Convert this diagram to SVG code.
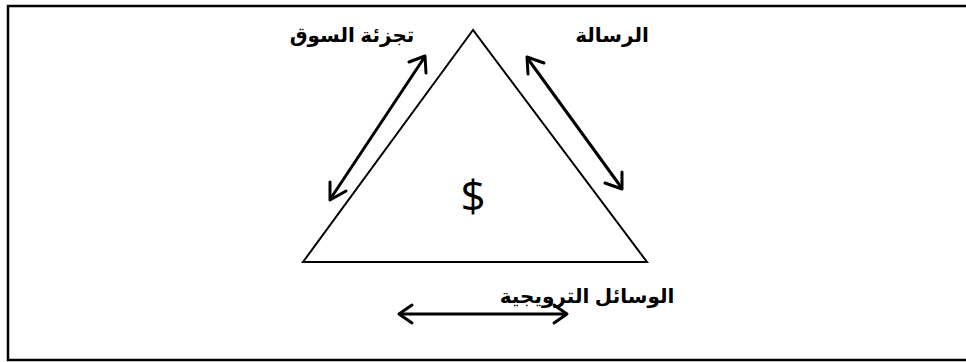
<svg xmlns="http://www.w3.org/2000/svg" width="966" height="362" viewBox="0 0 966 362">
<style>
.lbl{font-family:"Liberation Sans","DejaVu Sans",sans-serif;font-weight:bold;font-size:20px;fill:#000}
.arr{stroke:#000;stroke-width:3;fill:none}
.head{stroke:#000;stroke-width:3;fill:none;stroke-linecap:round;stroke-linejoin:round}
</style>
<rect x="8" y="6" width="970" height="354" fill="#fff" stroke="#000" stroke-width="2.5"/>
<g id="triangle">
<polygon points="473,30 303,262 647,262" fill="none" stroke="#000" stroke-width="2"/>
<text x="473" y="212" text-anchor="middle" font-family="'Open Sans','DejaVu Sans',sans-serif" font-size="44">$</text>
</g>
<g id="label-segmentation"><text class="lbl" x="352" y="42" text-anchor="middle" direction="rtl">تجزئة السوق</text></g>
<g id="label-message"><text class="lbl" x="612" y="42" text-anchor="middle" direction="rtl">الرسالة</text></g>
<g id="label-media"><text class="lbl" x="587" y="303" text-anchor="middle" direction="rtl">الوسائل الترويجية</text></g>
<g id="connectors">
<line class="arr" x1="331" y1="198" x2="424" y2="58"/>
<polyline class="head" points="330,182 330,200 346,191"/>
<polyline class="head" points="409,62 425,56 426,73"/>
<line class="arr" x1="528" y1="59" x2="621" y2="187"/>
<polyline class="head" points="544,63 527,57 528,74"/>
<polyline class="head" points="605,183 622,189 622,172"/>
<line class="arr" x1="399" y1="314" x2="567" y2="314"/>
<polyline class="head" points="412,305 399,314 412,323"/>
<polyline class="head" points="554,305 567,314 554,323"/>
</g>
</svg>
